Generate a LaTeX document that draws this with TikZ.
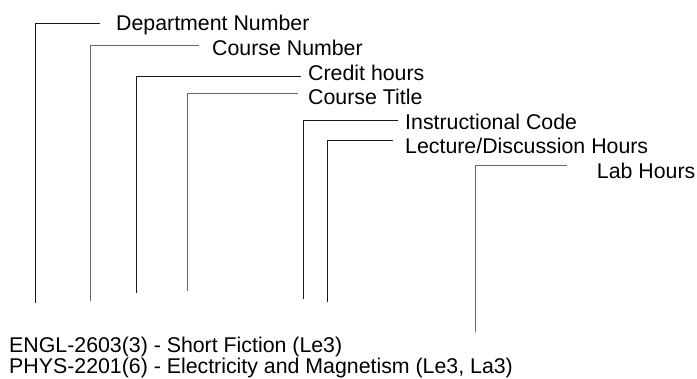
\documentclass[tikz,border=0pt]{standalone}
\usepackage{fontspec}
\setmainfont{Liberation Sans}
\usepackage{tikz}
\definecolor{linedark}{rgb}{.1,.1,.1}
\definecolor{linegray}{rgb}{.4,.4,.4}

\begin{document}
\begin{tikzpicture}[x=0.03cm,y=-0.03cm,
  lbl/.style={anchor=base west,inner sep=0pt,font=\fontsize{18.2}{21}\selectfont},
  lead/.style={draw=linedark,line width=0.8pt},
  leadgray/.style={draw=linegray,line width=0.8pt}]
\useasboundingbox (0,0) rectangle (697,378);

% leader end points
\coordinate (deptfoot) at (35.3,303.3);
\coordinate (depttip) at (100,23.5);
\coordinate (numfoot) at (90.7,301);
\coordinate (numtip) at (199,45.7);
\coordinate (credfoot) at (136,292.7);
\coordinate (credtip) at (301,76);
\coordinate (titlefoot) at (187.7,290.7);
\coordinate (titletip) at (297.7,93.7);
\coordinate (instrfoot) at (303.3,298.7);
\coordinate (instrtip) at (398.3,120.7);
\coordinate (lecfoot) at (327.7,302.3);
\coordinate (lectip) at (393.3,140.7);
\coordinate (labfoot) at (475,332.3);
\coordinate (labtip) at (566.7,165.7);

\draw[lead] (deptfoot) |- (depttip);
\draw[leadgray] (numfoot) |- (numtip);
\draw[lead] (credfoot) |- (credtip);
\draw[leadgray] (titlefoot) |- (titletip);
\draw[lead] (instrfoot) |- (instrtip);
\draw[lead] (lecfoot) |- (lectip);
\draw[leadgray] (labfoot) |- (labtip);

\node[lbl] (dept) at (116,30) {Department Number};
\node[lbl] (num) at (212,55) {Course Number};
\node[lbl] (cred) at (308,80) {Credit hours};
\node[lbl] (title) at (308,104) {Course Title};
\node[lbl] (instr) at (405,129.3) {Instructional Code};
\node[lbl] (lec) at (405,153.3) {Lecture/Discussion Hours};
\node[lbl] (lab) at (596.7,178.3) {Lab Hours};

\node[lbl] (engl) at (9,352) {ENGL-2603(3) - Short Fiction (Le3)};
\node[lbl] (phys) at (9,373) {PHYS-2201(6) - Electricity and Magnetism (Le3, La3)};
\end{tikzpicture}
\end{document}
